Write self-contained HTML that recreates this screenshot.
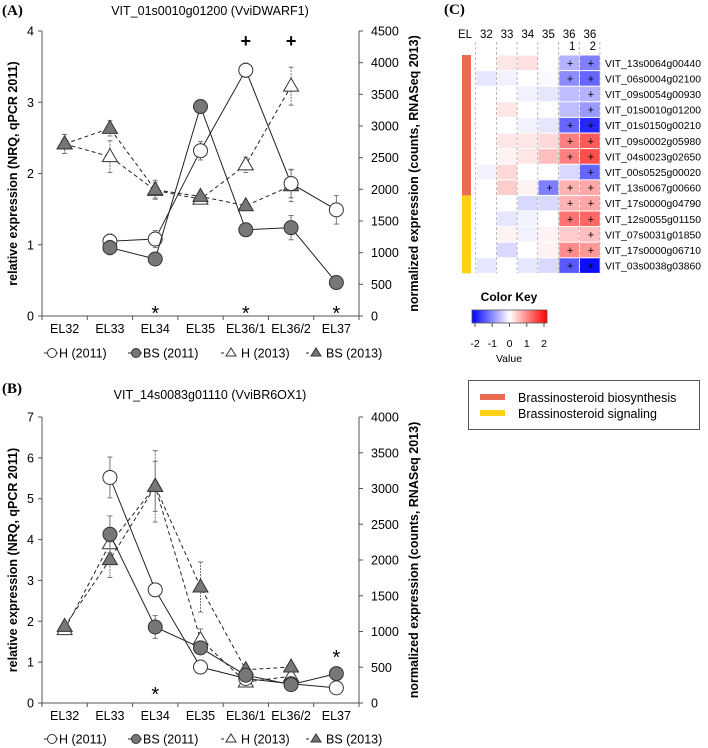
<!DOCTYPE html>
<html><head><meta charset="utf-8">
<style>
html,body{margin:0;padding:0;background:#fff;}
svg{display:block;font-family:"Liberation Sans",Arial,sans-serif;}
</style></head>
<body>
<svg id="fig" width="708" height="748" viewBox="0 0 708 748" xmlns="http://www.w3.org/2000/svg">
<text x="2" y="15" font-family="Liberation Serif" font-weight="bold" font-size="15">(A)</text>
<text x="210" y="15" font-size="12.5" text-anchor="middle">VIT_01s0010g01200 (VviDWARF1)</text>
<g id="pa"></g>
<text x="2" y="393" font-family="Liberation Serif" font-weight="bold" font-size="15">(B)</text>
<text x="210" y="399" font-size="12.5" text-anchor="middle">VIT_14s0083g01110 (VviBR6OX1)</text>
<g id="pb"></g>
<text x="444" y="14" font-family="Liberation Serif" font-weight="bold" font-size="15">(C)</text>
<g id="pc"></g>
</svg>
<script>
const categories=["EL32","EL33","EL34","EL35","EL36/1","EL36/2","EL37"];
// Panel A
const aH2011=[null,1.05,1.08,2.32,3.45,1.86,1.49];
const aBS2011=[null,0.96,0.80,2.94,1.21,1.24,0.47];
const aH2013=[2717,2517,1983,1846,2386,3629,null];
const aBS2013=[2717,2963,1993,1888,1741,2056,null];
const aErrH2011=[0,0.1,0.12,0.13,0.1,0.2,0.2];
const aErrBS2011=[0,0.1,0,0.08,0,0.17,0];
const aErrH2013=[150,250,120,60,120,300,0];
const aErrBS2013=[150,120,150,60,60,250,0];
const aLeftTicks=[0,1,2,3,4];
const aRightTicks=[0,500,1000,1500,2000,2500,3000,3500,4000,4500];
const aStars=[2,4,6];
const aPlus=[4,5];
// Panel B
const bH2011=[null,5.52,2.77,0.88,0.6,0.47,0.37];
const bBS2011=[null,4.13,1.86,1.35,0.68,0.45,0.72];
const bH2013=[1026,2228,3030,886,294,373,null];
const bBS2013=[1072,2005,3030,1622,466,503,null];
const bErrH2011=[0,0.5,0,0,0,0,0];
const bErrBS2011=[0,0.45,0.28,0,0,0,0];
const bErrH2013=[60,200,350,150,60,60,0];
const bErrBS2013=[60,250,500,350,60,60,0];
const bLeftTicks=[0,1,2,3,4,5,6,7];
const bRightTicks=[0,500,1000,1500,2000,2500,3000,3500,4000];
const bStars=[2,6];
const bStarVals=[0.25,1.15];
// Heatmap
const hmCols=["32","33","34","35","36","36"];
const hmColSub=["","","","","1","2"];
const hmGenes=["VIT_13s0064g00440","VIT_06s0004g02100","VIT_09s0054g00930","VIT_01s0010g01200","VIT_01s0150g00210","VIT_09s0002g05980","VIT_04s0023g02650","VIT_00s0525g00020","VIT_13s0067g00660","VIT_17s0000g04790","VIT_12s0055g01150","VIT_07s0031g01850","VIT_17s0000g06710","VIT_03s0038g03860"];
const hmValues=[
[0,0.2,0.25,0,-0.6,-1.0],
[-0.2,-0.1,0,-0.05,-0.9,-1.2],
[0,0,-0.1,-0.2,-0.5,-0.6],
[0,0.2,0,0,-0.5,-0.8],
[0,0,-0.1,-0.2,-1.2,-1.7],
[0,0.2,0.2,0.3,1.0,1.3],
[0,0.1,0.2,0.5,1.0,1.4],
[-0.1,0.3,0,0,-0.3,-1.2],
[0,0.4,0.1,-1.0,0.6,0.7],
[0,0,-0.3,-0.3,0.6,0.7],
[0,-0.2,-0.1,0,1.1,1.2],
[0,0.1,-0.1,0.1,0.4,0.5],
[0,-0.3,0,0.1,0.9,0.8],
[-0.2,0,-0.2,-0.3,-1.3,-1.9]];
const hmPlus=[
[0,0,0,0,1,1],[0,0,0,0,1,1],[0,0,0,0,0,1],[0,0,0,0,0,1],[0,0,0,0,1,1],[0,0,0,0,1,1],[0,0,0,0,1,1],
[0,0,0,0,0,1],[0,0,0,1,1,1],[0,0,0,0,1,1],[0,0,0,0,1,1],[0,0,0,0,0,1],[0,0,0,0,1,1],[0,0,0,0,1,1]];
const hmGroups=[9,5];
const keyTicks=[-2,-1,0,1,2];

const NS="http://www.w3.org/2000/svg";
function mk(parent,tag,attrs,text){const e=document.createElementNS(NS,tag);for(const k in attrs)e.setAttribute(k,attrs[k]);if(text!==undefined)e.textContent=text;parent.appendChild(e);return e;}

function drawPanel(g,o){
  const x0=42,x1=359,yT=o.top,yB=o.bottom;
  const n=categories.length,cw=(x1-x0)/n;
  const xs=i=>x0+cw*(i+0.5);
  const yl=v=>yB-(v/o.lmax)*(yB-yT);
  const yr=v=>yB-(v/o.rmax)*(yB-yT);
  let e;
  e=mk(g,"line",{x1:x0,y1:yT,x2:x0,y2:yB,stroke:"#555","stroke-width":1});
  
  e=mk(g,"line",{x1:x1,y1:yT,x2:x1,y2:yB,stroke:"#555","stroke-width":1});
  
  e=mk(g,"line",{x1:x0,y1:yB,x2:x1,y2:yB,stroke:"#555","stroke-width":1});
  
  for(let i=0;i<=n;i++){mk(g,"line",{x1:x0+cw*i,y1:yB,x2:x0+cw*i,y2:yB+4,stroke:"#555"});}
  categories.forEach((c,i)=>{e=mk(g,"text",{x:xs(i),y:yB+17,"font-size":12.5,"text-anchor":"middle"},c);
    });
  o.lt.forEach(v=>{mk(g,"line",{x1:x0-4,y1:yl(v),x2:x0,y2:yl(v),stroke:"#555"});
    e=mk(g,"text",{x:x0-8,y:yl(v)+4.5,"font-size":12.5,"text-anchor":"end"},v);
    });
  o.rt.forEach(v=>{mk(g,"line",{x1:x1,y1:yr(v),x2:x1+4,y2:yr(v),stroke:"#555"});
    e=mk(g,"text",{x:x1+12,y:yr(v)+4.5,"font-size":12.5},v);
    });
  const my=(yT+yB)/2;
  e=mk(g,"text",{transform:`translate(17,${my}) rotate(-90)`,"font-size":12.5,"font-weight":"bold","text-anchor":"middle"},"relative expression (NRQ, qPCR 2011)");
  
  e=mk(g,"text",{transform:`translate(418,${my}) rotate(-90)`,"font-size":12.5,"font-weight":"bold","text-anchor":"middle"},"normalized expression (counts, RNASeq 2013)");
  
  function series(vals,errs,ys,dashed,marker,fill,name){
    const sg=mk(g,"g",{});
    
    let pts=[];vals.forEach((v,i)=>{if(v!==null)pts.push([xs(i),ys(v)]);});
    mk(sg,"polyline",{points:pts.map(p=>p.join(",")).join(" "),fill:"none",stroke:"#222","stroke-width":1,"stroke-dasharray":dashed?"4,3":"none"});
    vals.forEach((v,i)=>{if(v===null||!errs[i])return;const x=xs(i);
      const t=ys(v+errs[i]),b=ys(v-errs[i]);
      mk(sg,"line",{x1:x,y1:t,x2:x,y2:b,stroke:"#777","stroke-dasharray":dashed?"2,1":"none"});
      mk(sg,"line",{x1:x-2.5,y1:t,x2:x+2.5,y2:t,stroke:"#777"});mk(sg,"line",{x1:x-2.5,y1:b,x2:x+2.5,y2:b,stroke:"#777"});});
    vals.forEach((v,i)=>{if(v===null)return;const x=xs(i),y=ys(v);let m;
      if(marker==="c")m=mk(sg,"circle",{cx:x,cy:y,r:7,fill:fill,stroke:"#333","stroke-width":1});
      else m=mk(sg,"polygon",{points:`${x},${y-8} ${x-7.5},${y+5} ${x+7.5},${y+5}`,fill:fill,stroke:"#333","stroke-width":1});
      });
  }
  series(o.h13,o.eh13,yr,true,"t","#fff","h-2013-series");
  series(o.bs13,o.ebs13,yr,true,"t","#777","bs-2013-series");
  series(o.h11,o.eh11,yl,false,"c","#fff","h-2011-series");
  series(o.bs11,o.ebs11,yl,false,"c","#777","bs-2011-series");
  o.stars.forEach((i,k)=>{e=mk(g,"text",{x:xs(i),y:(o.starY?yl(o.starY[k]):yB-4)+8,"font-size":20,"text-anchor":"middle"},"*");
    });
  (o.plus||[]).forEach(i=>{e=mk(g,"text",{x:xs(i),y:yT+16,"font-size":18,"font-weight":"bold","text-anchor":"middle"},"+");
    });
  const ly=o.legY;
  const lg=mk(g,"g",{});
  const items=[[44,"c","#fff",false,"H (2011)"],[128,"c","#777",false,"BS (2011)"],[221,"t","#fff",true,"H (2013)"],[306,"t","#777",true,"BS (2013)"]];
  items.forEach(it=>{const x=it[0];
    const ig=mk(lg,"g",{});
    mk(ig,"line",{x1:x,y1:ly,x2:x+14,y2:ly,stroke:"#222","stroke-dasharray":it[3]?"3,6":"none"});
    if(it[1]==="c")mk(ig,"circle",{cx:x+8,cy:ly,r:4.5,fill:it[2],stroke:"#333"});
    else mk(ig,"polygon",{points:`${x+10},${ly-5} ${x+5},${ly+3} ${x+15},${ly+3}`,fill:it[2],stroke:"#333"});
    mk(ig,"text",{x:x+(it[1]==="c"?15:20),y:ly+4.5,"font-size":12.5},it[4]);});
}
drawPanel(document.getElementById("pa"),{top:31,bottom:316,lmax:4,rmax:4500,lt:aLeftTicks,rt:aRightTicks,
 h11:aH2011,bs11:aBS2011,h13:aH2013,bs13:aBS2013,eh11:aErrH2011,ebs11:aErrBS2011,eh13:aErrH2013,ebs13:aErrBS2013,
 stars:aStars,plus:aPlus,legY:353});
drawPanel(document.getElementById("pb"),{top:417,bottom:703,lmax:7,rmax:4000,lt:bLeftTicks,rt:bRightTicks,
 h11:bH2011,bs11:bBS2011,h13:bH2013,bs13:bBS2013,eh11:bErrH2011,ebs11:bErrBS2011,eh13:bErrH2013,ebs13:bErrBS2013,
 stars:bStars,starY:bStarVals,legY:739});

(function(){
  const g=document.getElementById("pc");
  const cx0=476,cw=20.7,ry0=55,rh=15.6;let e;
  function col(v){const t=Math.max(-1,Math.min(1,v/2));
    if(t>=0){const a=Math.round(255*(1-t));return `rgb(255,${a},${a})`;}
    const a=Math.round(255*(1+t));return `rgb(${a},${a},255)`;}
  e=mk(g,"text",{x:465,y:38,"font-size":11.5,"text-anchor":"middle"},"EL");
  
  hmCols.forEach((c,j)=>{const x=cx0+cw*(j+0.5);
    e=mk(g,"text",{x:x,y:38,"font-size":11.5,"text-anchor":"middle"},c);
    
    if(hmColSub[j]){e=mk(g,"text",{x:x+3,y:50,"font-size":11.5,"text-anchor":"middle"},hmColSub[j]);
      }});
  hmValues.forEach((row,i)=>{row.forEach((v,j)=>{
    const r=mk(g,"rect",{x:cx0+cw*j+0.5,y:ry0+rh*i+0.5,width:cw-1,height:rh-1,fill:col(v)});
    
    if(hmPlus[i][j]){e=mk(g,"text",{x:cx0+cw*(j+0.5)+1,y:ry0+rh*i+rh/2+4,"font-size":11,"text-anchor":"middle"},"+");
      }});
    e=mk(g,"text",{x:605,y:ry0+rh*i+rh/2+4,"font-size":10.3,textLength:96,lengthAdjust:"spacingAndGlyphs"},hmGenes[i]);
    });
  for(let j=0;j<=hmCols.length;j++){mk(g,"line",{x1:cx0+cw*j-0.3,y1:42,x2:cx0+cw*j-0.3,y2:ry0+rh*hmValues.length,stroke:"#aaa","stroke-dasharray":"3,2","stroke-width":0.8});}
  const gc=["#ec6a52","#fcd116"];let yy=ry0;
  hmGroups.forEach((n,k)=>{e=mk(g,"rect",{x:462,y:yy,width:9,height:n*rh,fill:gc[k]});
    yy+=n*rh;});
  e=mk(g,"text",{x:509,y:301,"font-size":12,"font-weight":"bold","text-anchor":"middle"},"Color Key");
  
  const defs=mk(g,"defs",{});const lgd=mk(defs,"linearGradient",{id:"ck"});
  [["0%","#0000ff"],["50%","#ffffff"],["100%","#ff0000"]].forEach(s=>mk(lgd,"stop",{offset:s[0],"stop-color":s[1]}));
  e=mk(g,"rect",{x:472,y:310,width:75,height:13,fill:"url(#ck)",stroke:"#555","stroke-width":0.8});
  
  keyTicks.forEach(v=>{const x=472+75*(v+2)/4*0.92+3;
    mk(g,"line",{x1:x,y1:323,x2:x,y2:327,stroke:"#555"});
    e=mk(g,"text",{x:x,y:347,"font-size":10.5,"text-anchor":"middle"},v);
    });
  e=mk(g,"text",{x:509,y:362,"font-size":10.5,"text-anchor":"middle"},"Value");
  
  const lg=mk(g,"g",{});
  mk(lg,"rect",{x:468.5,y:380.5,width:231,height:49,fill:"#fff",stroke:"#555","stroke-width":1});
  mk(lg,"rect",{x:480,y:394,width:25,height:6,fill:gc[0]});
  mk(lg,"text",{x:518,y:402,"font-size":12.5},"Brassinosteroid biosynthesis");
  mk(lg,"rect",{x:480,y:410,width:25,height:6,fill:gc[1]});
  mk(lg,"text",{x:518,y:418,"font-size":12.5},"Brassinosteroid signaling");
})();
</script>
</body></html>
